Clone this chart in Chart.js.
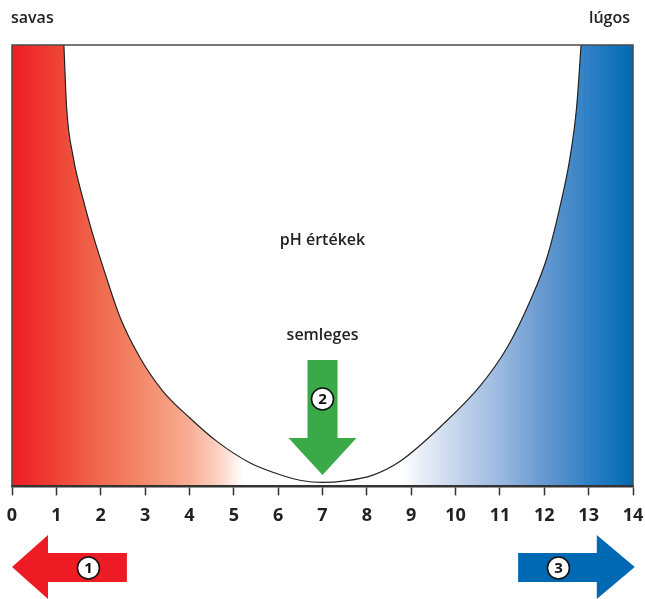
<!DOCTYPE html>
<html>
<head>
<meta charset="utf-8">
<script src="https://cdn.jsdelivr.net/npm/chart.js@4.4.1/dist/chart.umd.min.js"></script>
<style>
  html, body { margin: 0; padding: 0; background: #ffffff; }
  #wrap { width: 645px; height: 599px; position: relative; }
</style>
</head>
<body>
<div id="wrap"><canvas id="c" width="645" height="599"></canvas></div>
<script>
// ---- data ----
const phTicks = [0, 1, 2, 3, 4, 5, 6, 7, 8, 9, 10, 11, 12, 13, 14];
const curvePh = [1.17, 1.23, 1.38, 1.61, 1.83, 2.10, 2.44, 2.89, 3.40, 4.01, 4.62, 5.37, 6.15, 6.49, 7.0, 7.51, 8.12, 8.75, 9.72, 10.55, 11.16, 11.68, 12.06, 12.35, 12.58, 12.73, 12.83];
const curveLevel = [100, 86, 74.6, 64.8, 56.8, 48.2, 38.2, 29.1, 21.6, 15.5, 10.2, 5.3, 2.3, 1.4, 0.9, 1.25, 2.5, 5.7, 14.1, 22.7, 31.4, 42, 51.8, 63.2, 74.5, 86, 100];
const gradientPh = [0, 1, 2, 3, 4, 4.7, 5.2, 8.8, 9.3, 10, 11, 12, 13, 14];
const gradientColors = ['#ed1c24', '#ee4234', '#f06a4f', '#f48b6c', '#f8ad94', '#fcd5c6', '#ffffff', '#ffffff', '#e5ecf6', '#c6d6ec', '#9bb9df', '#6598d0', '#2f80c5', '#0069b4'];
const leftLabel = 'savas';
const rightLabel = 'lúgos';
const centerLabel = 'pH értékek';
const neutralLabel = 'semleges';
const neutralPh = 7;
const acidArrow = [0, 2.59];     // tip, tail (pH)
const baseArrow = [11.41, 14.04]; // tail, tip (pH)
const markers = ['1', '2', '3'];

const FONT = '"Open Sans", "Noto Sans", sans-serif';

function circleNum(ctx, x, y, txt) {
  ctx.beginPath();
  ctx.arc(x, y, 11, 0, Math.PI * 2);
  ctx.fillStyle = '#ffffff';
  ctx.fill();
  ctx.lineWidth = 1.6;
  ctx.strokeStyle = '#111111';
  ctx.stroke();
  ctx.fillStyle = '#111111';
  ctx.font = 'bold 15px ' + FONT;
  ctx.textAlign = 'center';
  ctx.textBaseline = 'middle';
  ctx.fillText(txt, x, y + 1);
}

const decor = {
  id: 'decor',
  beforeDraw(chart) {
    const { ctx, chartArea: a, scales: { x } } = chart;
    const x0 = x.getPixelForValue(0), x1 = x.getPixelForValue(14);
    const g = ctx.createLinearGradient(x0, 0, x1, 0);
    gradientPh.forEach((p, i) => g.addColorStop(p / 14, gradientColors[i]));
    ctx.save();
    ctx.fillStyle = g;
    ctx.fillRect(a.left, a.top, a.right - a.left, a.bottom - a.top);
    ctx.restore();
  },
  afterDatasetsDraw(chart) {
    const { ctx, chartArea: a, scales: { x } } = chart;
    ctx.save();
    // frame (top, left, right)
    ctx.strokeStyle = '#4a4a4a';
    ctx.lineWidth = 1.5;
    ctx.beginPath();
    ctx.moveTo(a.left, a.bottom);
    ctx.lineTo(a.left, a.top);
    ctx.lineTo(a.right, a.top);
    ctx.lineTo(a.right, a.bottom);
    ctx.stroke();

    // texts
    ctx.fillStyle = '#222222';
    ctx.font = '600 16px ' + FONT;
    ctx.textBaseline = 'alphabetic';
    ctx.textAlign = 'left';
    ctx.fillText(leftLabel, 11, 23);
    ctx.textAlign = 'right';
    ctx.fillText(rightLabel, 630, 23);
    ctx.textAlign = 'center';
    const xc = x.getPixelForValue(neutralPh);
    ctx.fillText(centerLabel, xc, 245);
    ctx.fillText(neutralLabel, xc, 340);

    // green arrow
    ctx.fillStyle = '#3aaa49';
    ctx.beginPath();
    ctx.moveTo(xc - 15, 360);
    ctx.lineTo(xc + 15, 360);
    ctx.lineTo(xc + 15, 438);
    ctx.lineTo(xc + 34, 438);
    ctx.lineTo(xc, 475);
    ctx.lineTo(xc - 34, 438);
    ctx.lineTo(xc - 15, 438);
    ctx.closePath();
    ctx.fill();
    circleNum(ctx, xc, 399, markers[1]);

    // red arrow (left)
    const rt = x.getPixelForValue(acidArrow[0]), re = x.getPixelForValue(acidArrow[1]);
    ctx.fillStyle = '#ed1c24';
    ctx.beginPath();
    ctx.moveTo(rt, 567);
    ctx.lineTo(rt + 36, 535);
    ctx.lineTo(rt + 36, 553);
    ctx.lineTo(re, 553);
    ctx.lineTo(re, 582);
    ctx.lineTo(rt + 36, 582);
    ctx.lineTo(rt + 36, 599);
    ctx.closePath();
    ctx.fill();
    circleNum(ctx, (rt + 36 + re) / 2 + 1, 568, markers[0]);

    // blue arrow (right)
    const bs = x.getPixelForValue(baseArrow[0]), bt = x.getPixelForValue(baseArrow[1]);
    ctx.fillStyle = '#0069b4';
    ctx.beginPath();
    ctx.moveTo(bt, 567);
    ctx.lineTo(bt - 38, 535);
    ctx.lineTo(bt - 38, 553);
    ctx.lineTo(bs, 553);
    ctx.lineTo(bs, 582);
    ctx.lineTo(bt - 38, 582);
    ctx.lineTo(bt - 38, 599);
    ctx.closePath();
    ctx.fill();
    circleNum(ctx, (bs + bt - 38) / 2 + 1, 568, markers[2]);
    ctx.restore();
  }
};

new Chart(document.getElementById('c'), {
  type: 'line',
  data: {
    datasets: [{
      data: curvePh.map((p, i) => ({ x: p, y: curveLevel[i] })),
      borderColor: '#222222',
      borderWidth: 1.2,
      backgroundColor: '#ffffff',
      fill: 'end',
      pointRadius: 0,
      cubicInterpolationMode: 'monotone'
    }]
  },
  options: {
    responsive: false,
    animation: false,
    devicePixelRatio: 1,
    layout: { padding: { top: 45, left: 12, right: 12, bottom: 62 } },
    plugins: { legend: { display: false }, tooltip: { enabled: false } },
    scales: {
      x: {
        type: 'linear',
        min: 0,
        max: 14,
        afterBuildTicks(scale) { scale.ticks = phTicks.map(v => ({ value: v })); },
        afterFit(scale) { scale.paddingLeft = 0; scale.paddingRight = 0; },
        ticks: {
          autoSkip: false,
          padding: 10,
          color: '#222222',
          font: { family: FONT, size: 18, weight: 'bold' },
          callback: v => String(v)
        },
        grid: { display: true, drawOnChartArea: false, tickLength: 9, tickColor: '#333333', tickWidth: 1.5 },
        border: { display: true, color: '#333333', width: 2.5 }
      },
      y: { display: false, min: 0, max: 100 }
    }
  },
  plugins: [decor]
});
</script>
</body>
</html>
